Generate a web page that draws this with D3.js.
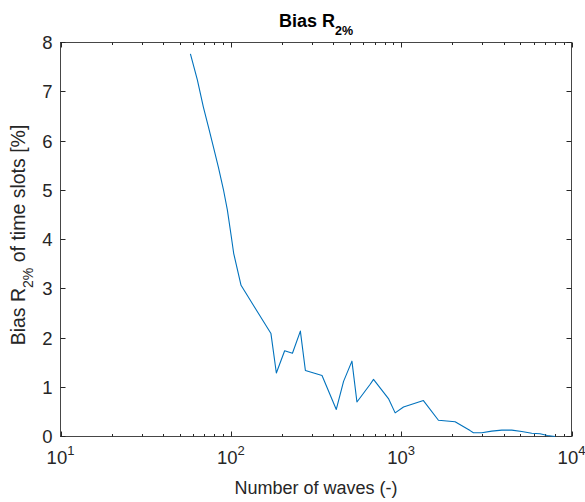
<!DOCTYPE html>
<html>
<head>
<meta charset="utf-8">
<script src="https://cdn.jsdelivr.net/npm/d3@7"></script>
<style>
  html, body { margin: 0; padding: 0; background: #fff; }
  svg { display: block; }
  text { font-family: "Liberation Sans", Arial, Helvetica, sans-serif; }
</style>
</head>
<body>
<svg id="chart" width="585" height="502"></svg>
<script>
// ---- data ----
const waves = [57.9, 63.6, 69.0, 73.8, 79.0, 84.5, 90.4, 95.4, 100.7, 103.9, 114.8, 172, 185, 207, 230, 256, 274, 343, 416, 459, 514, 550, 658, 688, 842, 922, 1032, 1351, 1655, 2073, 2539, 2655, 2974, 3404, 3896, 4460, 5105, 5843, 6535, 7211, 8003];
const bias  = [7.77, 7.24, 6.69, 6.29, 5.88, 5.47, 5.02, 4.60, 4.05, 3.72, 3.07, 2.09, 1.29, 1.74, 1.69, 2.14, 1.34, 1.24, 0.55, 1.12, 1.53, 0.70, 1.06, 1.16, 0.77, 0.48, 0.60, 0.73, 0.33, 0.30, 0.12, 0.075, 0.075, 0.11, 0.13, 0.13, 0.10, 0.067, 0.055, 0.02, 0.0];
const xTicks = [10, 100, 1000, 10000];
const xTickExp = ["1", "2", "3", "4"];
const yTicks = [0, 1, 2, 3, 4, 5, 6, 7, 8];

const svg = d3.select("#chart");
const L = 60.5, R = 571.5, T = 42.5, B = 436.5;
const axisColor = "#262626";

const x = d3.scaleLog().domain([10, 10000]).range([L, R]);
const y = d3.scaleLinear().domain([0, 8]).range([B, T]);

// minor ticks
const minor = [];
for (let d = 10; d < 10000; d *= 10) for (let k = 2; k <= 9; k++) minor.push(d * k);

const g = svg.append("g");

// box
g.append("rect").attr("x", L).attr("y", T).attr("width", R - L).attr("height", B - T)
  .attr("fill", "none").attr("stroke", axisColor).attr("stroke-width", 1).attr("stroke-opacity", 0.85);

// x ticks (bottom and top, inward)
function vt(xv, len) {
  const px = Math.round(x(xv)) + 0.5;
  g.append("line").attr("x1", px).attr("x2", px).attr("y1", B).attr("y2", B - len).attr("stroke", axisColor);
  g.append("line").attr("x1", px).attr("x2", px).attr("y1", T).attr("y2", T + len).attr("stroke", axisColor);
}
minor.forEach(v => vt(v, 2.5));
xTicks.forEach(v => vt(v, 5));

// y ticks (left and right, inward)
yTicks.forEach(v => {
  const py = Math.round(y(v) - 0.5) + 0.5;
  g.append("line").attr("x1", L).attr("x2", L + 5).attr("y1", py).attr("y2", py).attr("stroke", axisColor);
  g.append("line").attr("x1", R).attr("x2", R - 5).attr("y1", py).attr("y2", py).attr("stroke", axisColor);
});

// y tick labels
g.selectAll(".ylab").data(yTicks).enter().append("text")
  .attr("x", L - 8).attr("y", d => y(d) + 6.5)
  .attr("text-anchor", "end").attr("font-size", 18.5).attr("fill", axisColor)
  .text(d => d);

// x tick labels with superscripts
xTicks.forEach((v, i) => {
  const t = g.append("text").attr("x", x(v)).attr("y", 464)
    .attr("text-anchor", "middle").attr("font-size", 18.5).attr("fill", axisColor);
  t.append("tspan").text("10");
  t.append("tspan").attr("dy", -9).attr("font-size", 13).text(xTickExp[i]);
});

// line
const line = d3.line().x((d, i) => x(waves[i])).y(d => y(d));
g.append("path").datum(bias).attr("d", line)
  .attr("fill", "none").attr("stroke", "#0072BD").attr("stroke-width", 1.1)
  .attr("stroke-linejoin", "round");

// title
const title = svg.append("text").attr("x", (L + R) / 2).attr("y", 27)
  .attr("text-anchor", "middle").attr("font-weight", "bold").attr("font-size", 18).attr("fill", "#000");
title.append("tspan").text("Bias R");
title.append("tspan").attr("dy", 8).attr("font-size", 12.5).text("2%");

// x label
svg.append("text").attr("x", (L + R) / 2).attr("y", 494)
  .attr("text-anchor", "middle").attr("font-size", 18).attr("fill", axisColor)
  .text("Number of waves (-)");

// y label
const yl = svg.append("text").attr("transform", `translate(25,235) rotate(-90)`)
  .attr("text-anchor", "middle").attr("font-size", 19.5).attr("fill", axisColor);
yl.append("tspan").text("Bias R");
yl.append("tspan").attr("dy", 8).attr("font-size", 14).text("2%");
yl.append("tspan").attr("dy", -8).text(" of time slots [%]");
</script>
</body>
</html>
